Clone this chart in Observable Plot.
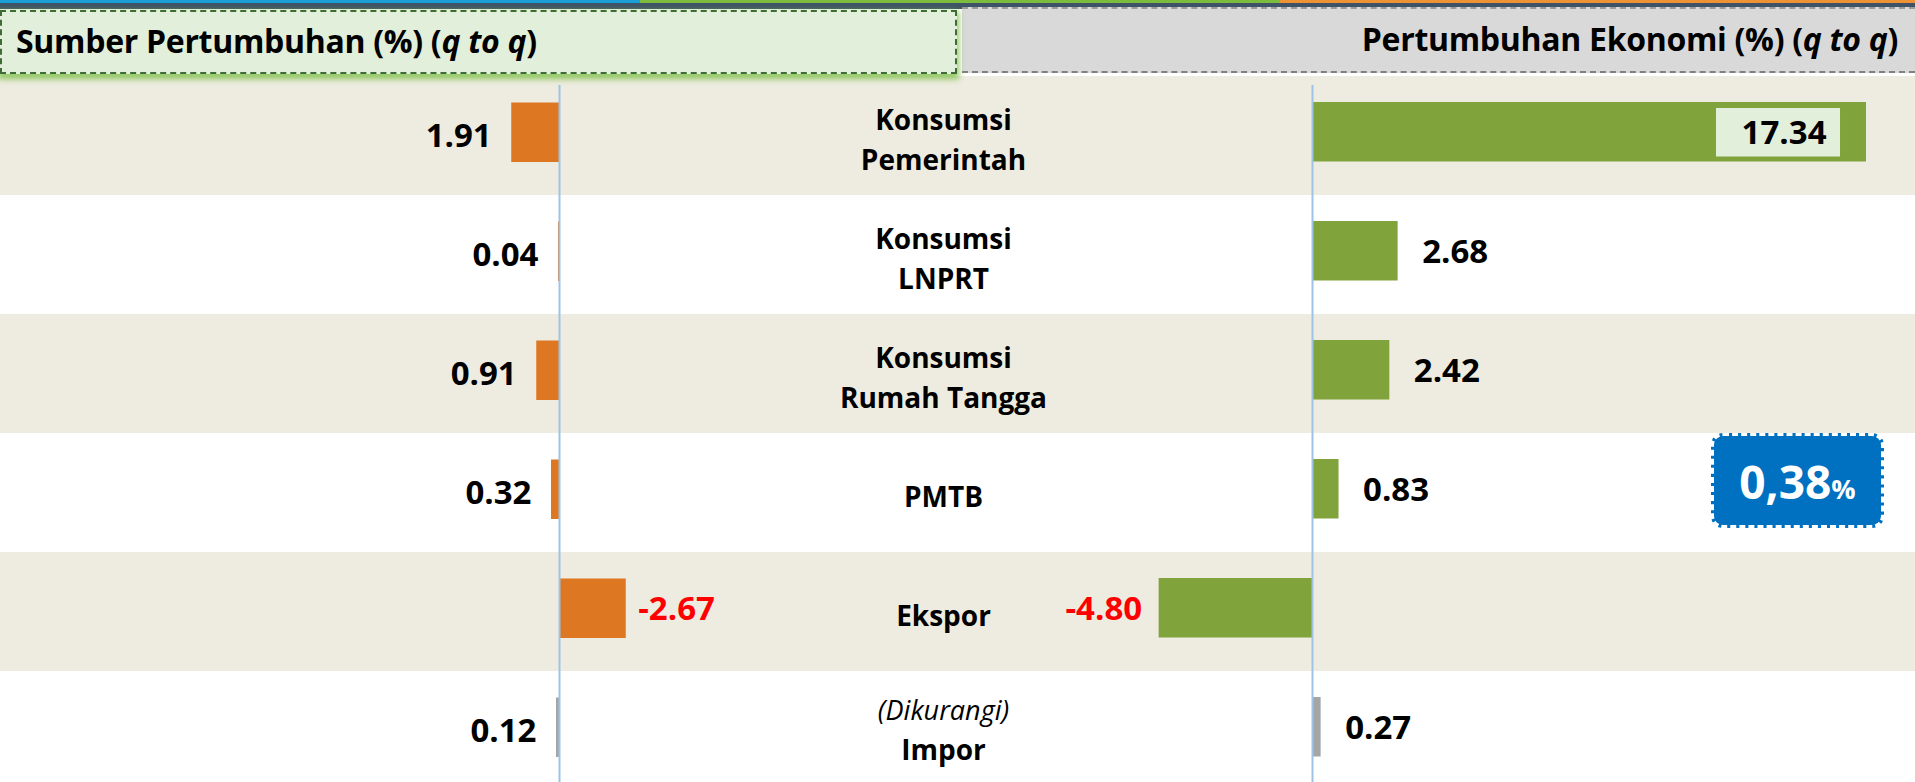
<!DOCTYPE html>
<html><head><meta charset="utf-8">
<script src="https://cdn.jsdelivr.net/npm/d3@7"></script>
<script src="https://cdn.jsdelivr.net/npm/@observablehq/plot@0.6"></script>
<style>
html,body{margin:0;padding:0;overflow:hidden;background:#fff;}
#wrap{position:relative;width:1915px;height:782px;overflow:hidden;font-family:"Open Sans",sans-serif;color:#000;}
.layer{position:absolute;left:0;top:0;}
#strip{position:absolute;left:0;top:0;width:1915px;height:3px;background:linear-gradient(to right,#1b9fd6 0,#1b9fd6 640px,#7dbb3c 640px,#7dbb3c 1280px,#ef9236 1280px,#ef9236 100%);z-index:3;}
#shade{position:absolute;left:0;top:3px;width:1915px;height:6px;background:#3e5367;z-index:3;}
#hdrL{position:absolute;left:0;top:10px;width:957px;height:64px;box-sizing:border-box;background:#E2EFDA;border:2px dashed #3f6b35;box-shadow:0 3px 6px 2px rgba(125,190,70,0.85);padding-left:14px;font-weight:700;font-size:32px;line-height:58px;letter-spacing:-0.3px;white-space:nowrap;z-index:4;}
#hdrR{position:absolute;left:962px;top:7px;width:953px;height:66px;box-sizing:border-box;background:#D9D9D9;border-top:2px dashed #9a9a9a;border-bottom:2px dashed #808080;padding-right:17px;text-align:right;font-weight:700;font-size:32px;line-height:60px;letter-spacing:-0.3px;white-space:nowrap;z-index:3;}
#badge{position:absolute;left:1711px;top:433px;width:173px;height:95px;box-sizing:border-box;background:#0070C0;border:3px dashed #fff;border-radius:12px;color:#fff;display:flex;align-items:center;justify-content:center;font-weight:700;z-index:5;}
#badge .num{font-size:46px;}
#badge .pct{font-size:27px;margin-top:16px;}
</style></head><body>
<div id="wrap">
  <div id="strip"></div><div id="shade"></div>
  <div id="hdrL">Sumber Pertumbuhan (%) (<i>q to q</i>)</div>
  <div id="hdrR">Pertumbuhan Ekonomi (%) (<i>q to q</i>)</div>
  <div id="chartL" class="layer"></div>
  <div id="chartR" class="layer"></div>
  <div id="badge"><span class="num"></span><span class="pct">%</span></div>
</div>
<script>
// ---- data ----
const categories = ["Konsumsi Pemerintah", "Konsumsi LNPRT", "Konsumsi Rumah Tangga", "PMTB", "Ekspor", "Impor"];
const labelTop = ["Konsumsi", "Konsumsi", "Konsumsi", "", "", ""];
const labelMain = ["Pemerintah", "LNPRT", "Rumah Tangga", "PMTB", "Ekspor", "Impor"];
const labelNote = ["", "", "", "", "", "(Dikurangi)"];
const sumberPertumbuhan = [1.91, 0.04, 0.91, 0.32, -2.67, 0.12];
const pertumbuhanEkonomi = [17.34, 2.68, 2.42, 0.83, -4.80, 0.27];
const totalGrowth = "0,38";

// ---- layout ----
const W = 1915, H = 782;
const bandTop = 74.75, bandH = 119.25;
const leftZero = 559, leftPx = 25;
const rightZero = 1312, rightPx = 31.95;
const ORANGE = "#DD7722", GREEN = "#80A33B", GREY = "#A5A5A5", BEIGE = "#EEECE1", AXIS = "#9DC3E6", RED = "#FF0000";
const fmt = v => v.toFixed(2);

const rows = categories.map((c, i) => ({
  category: c,
  label: [labelTop[i], labelMain[i]].filter(Boolean).join("\n"),
  note: labelNote[i],
  main: labelMain[i],
  sumber: sumberPertumbuhan[i],
  ekonomi: pertumbuhanEkonomi[i],
  impor: c === "Impor"
}));

const yOpt = {type: "band", domain: categories, range: [bandTop, bandTop + bandH * categories.length], padding: 0, axis: null};
const font = {fontFamily: "Open Sans", fontWeight: 700};
const VS = 33;

const left = Plot.plot({
  width: W, height: H,
  marginTop: 85, marginBottom: 0, marginLeft: 0, marginRight: 0,
  x: {domain: [leftZero / leftPx, (leftZero - W) / leftPx], axis: null},
  y: yOpt,
  color: {type: "identity"},
  style: {background: "transparent", overflow: "visible"},
  marks: [
    Plot.cell(rows.filter((d, i) => i % 2 === 0), {y: "category", fill: BEIGE}),
    Plot.barX(rows, {y: "category", x: "sumber", fill: d => d.impor ? GREY : ORANGE, insetTop: 26.5, insetBottom: 33}),
    Plot.ruleX([0], {stroke: AXIS, strokeWidth: 2}),
    Plot.text(rows.filter(d => d.sumber >= 0), {y: "category", x: "sumber", text: d => fmt(d.sumber), textAnchor: "end", dx: -20, dy: 0, fontSize: VS, fill: "#000", ...font}),
    Plot.text(rows.filter(d => d.sumber < 0), {y: "category", x: "sumber", text: d => fmt(d.sumber), textAnchor: "start", dx: 12, dy: -3, fontSize: VS, fill: RED, ...font}),
    Plot.text(rows.filter(d => !d.note), {y: "category", text: "label", frameAnchor: "middle", dx: -14.5, dy: 1, lineHeight: 1.45, fontSize: 28, fill: "#000", ...font}),
    Plot.text(rows.filter(d => d.note), {y: "category", text: "note", frameAnchor: "middle", dx: -14.5, dy: -20, fontSize: 27, fill: "#000", fontFamily: "Open Sans", fontWeight: 400, fontStyle: "italic"}),
    Plot.text(rows.filter(d => d.note), {y: "category", text: "main", frameAnchor: "middle", dx: -14.5, dy: 20, fontSize: 28, fill: "#000", ...font})
  ]
});
document.getElementById("chartL").appendChild(left);

const right = Plot.plot({
  width: W, height: H,
  marginTop: 85, marginBottom: 0, marginLeft: 0, marginRight: 0,
  x: {domain: [-rightZero / rightPx, (W - rightZero) / rightPx], axis: null},
  y: yOpt,
  color: {type: "identity"},
  style: {background: "transparent", overflow: "visible"},
  marks: [
    Plot.barX(rows, {y: "category", x: "ekonomi", fill: d => d.impor ? GREY : GREEN, insetTop: 26, insetBottom: 33.5}),
    Plot.barX(rows.filter(d => d.ekonomi > 10), {y: "category", x1: "ekonomi", x2: "ekonomi", fill: "#E2EFDA", insetLeft: -150, insetRight: 26, insetTop: 32, insetBottom: 38.5}),
    Plot.ruleX([0], {stroke: AXIS, strokeWidth: 2}),
    Plot.text(rows.filter(d => d.ekonomi > 10), {y: "category", x: "ekonomi", text: d => fmt(d.ekonomi), textAnchor: "end", dx: -40, dy: -3, fontSize: VS, fill: "#000", ...font}),
    Plot.text(rows.filter(d => d.ekonomi >= 0 && d.ekonomi <= 10), {y: "category", x: "ekonomi", text: d => fmt(d.ekonomi), textAnchor: "start", dx: 24, dy: -3, fontSize: VS, fill: "#000", ...font}),
    Plot.text(rows.filter(d => d.ekonomi < 0), {y: "category", x: "ekonomi", text: d => fmt(d.ekonomi), textAnchor: "end", dx: -17, dy: -3, fontSize: VS, fill: RED, ...font})
  ]
});
document.getElementById("chartR").appendChild(right);

document.querySelector("#badge .num").textContent = totalGrowth;
</script>
</body></html>
